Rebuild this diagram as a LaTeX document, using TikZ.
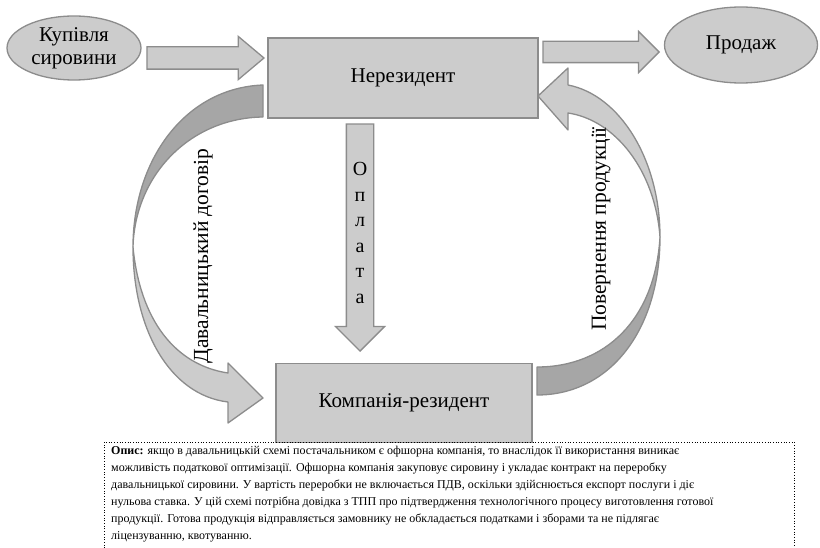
\documentclass[tikz,border=0pt]{standalone}
\usepackage{fontspec}
\setmainfont{Liberation Serif}
\usetikzlibrary{shapes.geometric,shapes.arrows,positioning}
\definecolor{boxgray}{RGB}{204,204,204}
\definecolor{shadegray}{RGB}{166,166,166}
\definecolor{edgegray}{RGB}{140,140,140}
\begin{document}
\begin{tikzpicture}[x=1pt,y=-1pt,font=\rmfamily\fontsize{21}{23}\selectfont,
      box/.style={draw=edgegray,fill=boxgray,line width=1.3pt,inner sep=0pt},
      oval/.style={box,ellipse,align=center},
      blk/.style={box,single arrow,single arrow head indent=0pt,text depth=0pt},
      curl/.style={draw=edgegray,line width=1.3pt,line join=round}]
      \useasboundingbox (0,0) rectangle (820,548);
      % curved arrows
      \draw[curl,fill=shadegray] (263,85) .. controls (185,88) and (133,160) .. (133,247)
        .. controls (135,175) and (190,118) .. (263,117) -- cycle;
      \draw[curl,fill=boxgray] (133,247) .. controls (133,330) and (170,395) .. (228,402)
        -- (228,423) -- (263,398) -- (228,363) -- (228,373)
        .. controls (175,365) and (140,320) .. (133,247) -- cycle;
      \draw[curl,fill=shadegray] (537,395) .. controls (610,395) and (660,330) .. (660,237)
        .. controls (655,320) and (605,367) .. (537,367) -- cycle;
      \draw[curl,fill=boxgray] (660,237) .. controls (660,160) and (620,95) .. (568,85)
        -- (568,68) -- (538,96) -- (568,130) -- (568,113)
        .. controls (615,120) and (655,170) .. (660,237) -- cycle;
      % nodes
      \node[oval,minimum width=134pt,minimum height=64pt] (buy) at (74,48) {Купівля\\сировини};
      \node[box,minimum width=270pt,minimum height=80pt] (nonres) at (403,78) {Нерезидент};
      \node[oval,minimum width=153pt,minimum height=76pt] (sale) at (741,45) {Продаж};
      \node[box,minimum width=256pt,minimum height=79pt] (res) at (404,403) {Компанія-резидент};
      \node[blk,anchor=tip,text height=21pt,minimum height=117pt,single arrow head extend=10.5pt,
        single arrow tip angle=80] (buyarr) at (265,58) {};
      \node[blk,anchor=tip,text height=20pt,minimum height=116pt,single arrow head extend=10pt,
        single arrow tip angle=90] (salearr) at (660,52) {};
      \node[blk,anchor=tip,rotate=-90,text height=26pt,minimum height=227pt,single arrow head extend=11pt,
        single arrow tip angle=90] (payarr) at (360,352) {};
      \node[align=center,font=\rmfamily\fontsize{20}{25.5}\selectfont] (pay) at (360,233) {О\\п\\л\\а\\т\\а};
      \node[rotate=90,font=\rmfamily\fontsize{21.5}{24}\selectfont] (give) at (203,256) {Давальницький договір};
      \node[rotate=90,font=\rmfamily\fontsize{21.5}{24}\selectfont] (ret) at (601,229) {Повернення продукції};
      % description
      \draw[dotted,line width=.7pt] (104,548) |- (794,442) -- (794,548);
      \node[anchor=north west,inner sep=0pt,align=left,font=\rmfamily\fontsize{12}{17}\selectfont] (desc) at (111,446)
        {\textbf{Опис:} якщо в давальницькій схемі постачальником є офшорна компанія, то внаслідок її використання виникає\\
        можливість податкової оптимізації. Офшорна компанія закуповує сировину і укладає контракт на переробку\\
        давальницької сировини. У вартість переробки не включається ПДВ, оскільки здійснюється експорт послуги і діє\\
        нульова ставка. У цій схемі потрібна довідка з ТПП про підтвердження технологічного процесу виготовлення готової\\
        продукції. Готова продукція відправляється замовнику не обкладається податками і зборами та не підлягає\\
        ліцензуванню, квотуванню.};
    \end{tikzpicture}
\end{document}
